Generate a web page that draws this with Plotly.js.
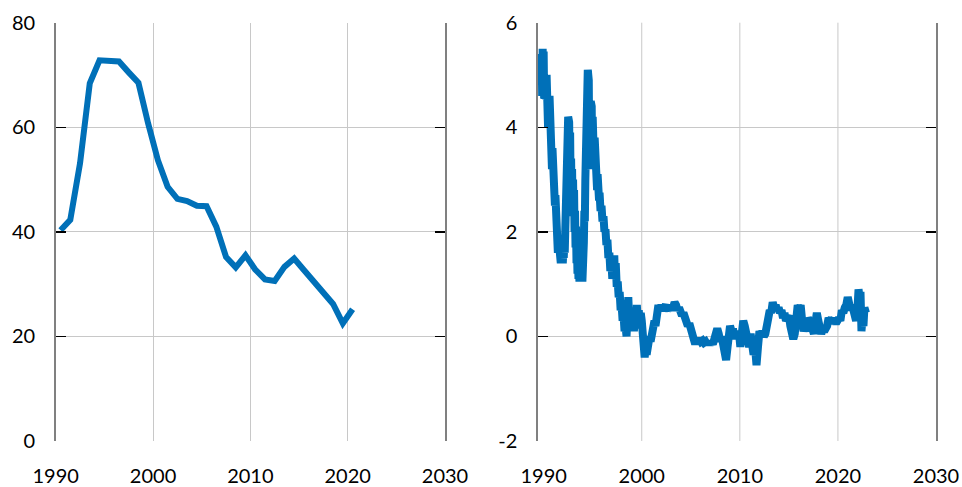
<!DOCTYPE html>
<html>
<head>
<meta charset="utf-8">
<script src="https://cdn.plot.ly/plotly-3.0.1.min.js"></script>
<style>html,body{margin:0;padding:0;background:#fff;}#chart{width:962px;height:487px;}</style>
</head>
<body>
<div id="chart"></div>
<script>
// Left panel: annual series
const leftYears = [1990.5,1991.5,1992.5,1993.5,1994.5,1995.5,1996.5,1997.5,1998.5,1999.5,2000.5,2001.5,2002.5,2003.5,2004.5,2005.5,2006.5,2007.5,2008.5,2009.5,2010.5,2011.5,2012.5,2013.5,2014.5,2015.5,2016.5,2017.5,2018.5,2019.5,2020.5];
const leftValues = [40.3,42.3,53.1,68.4,72.8,72.7,72.6,70.5,68.5,60.7,53.7,48.6,46.3,45.9,45.0,44.9,41.0,35.2,33.2,35.5,32.8,30.9,30.6,33.3,34.9,32.7,30.5,28.7,26.2,22.5,25.2];

// Right panel: high-frequency series
const rightDates = [
1989.80,1989.85,1989.90,1989.95,1990.00,1990.05,1990.10,1990.15,1990.20,1990.25,1990.30,1990.35,1990.40,1990.45,1990.50,1990.55,1990.60,1990.65,1990.70,1990.75,1990.80,1990.85,1990.90,1990.95,
1991.00,1991.05,1991.10,1991.15,1991.20,1991.25,1991.30,1991.35,1991.40,1991.45,1991.50,1991.55,1991.60,1991.65,1991.70,1991.75,1991.80,1991.85,1991.90,1991.95,
1992.00,1992.05,1992.10,1992.15,1992.20,1992.25,1992.30,1992.35,1992.40,1992.45,1992.50,1992.55,1992.60,1992.65,1992.70,1992.75,1992.80,1992.85,1992.90,1992.95,
1993.00,1993.05,1993.10,1993.15,1993.20,1993.25,1993.30,1993.35,1993.40,1993.45,1993.50,1993.55,1993.60,1993.65,1993.70,1993.75,1993.80,1993.85,1993.90,1993.95,
1994.00,1994.05,1994.10,1994.15,1994.20,1994.25,1994.30,1994.35,1994.40,1994.45,1994.50,1994.55,1994.60,1994.65,1994.70,1994.75,1994.80,1994.85,1994.90,1994.95,
1995.00,1995.05,1995.10,1995.15,1995.20,1995.25,1995.30,1995.35,1995.40,1995.45,1995.50,1995.55,1995.60,1995.65,1995.70,1995.80,1995.90,
1996.00,1996.10,1996.20,1996.30,1996.40,1996.50,1996.60,1996.70,1996.80,1996.90,
1997.00,1997.10,1997.20,1997.25,1997.35,1997.45,1997.55,1997.65,1997.75,1997.85,1997.95,
1998.05,1998.15,1998.25,1998.35,1998.45,1998.55,1998.63,1998.70,1998.80,1998.90,
1999.00,1999.10,1999.20,1999.30,1999.40,1999.50,1999.60,1999.70,1999.80,1999.90,
2000.00,2000.10,2000.20,2000.30,2000.40,2000.50,2000.60,2000.70,2000.80,2000.90,
2001.00,2001.10,2001.20,2001.30,2001.40,2001.50,2001.60,2001.70,2001.85,
2002.00,2002.15,2002.30,2002.45,2002.60,2002.75,2002.90,
2003.05,2003.20,2003.35,2003.50,2003.65,2003.80,2003.95,
2004.10,2004.25,2004.40,2004.55,2004.70,2004.85,
2005.00,2005.15,2005.30,2005.45,2005.60,2005.75,2005.90,
2006.05,2006.20,2006.35,2006.50,2006.65,2006.80,2006.95,
2007.10,2007.25,2007.40,2007.55,2007.70,2007.85,
2008.00,2008.15,2008.30,2008.45,2008.60,2008.75,2008.90,
2009.00,2009.15,2009.30,2009.45,2009.60,2009.75,2009.90,
2010.05,2010.20,2010.35,2010.50,2010.65,2010.80,2010.95,
2011.10,2011.25,2011.40,2011.55,2011.70,2011.85,
2012.00,2012.15,2012.30,2012.45,2012.60,2012.75,2012.90,
2013.05,2013.20,2013.35,2013.50,2013.65,2013.80,2013.95,
2014.10,2014.25,2014.40,2014.55,2014.70,2014.85,
2015.00,2015.15,2015.30,2015.45,2015.60,2015.75,2015.90,
2016.05,2016.20,2016.35,2016.50,2016.65,2016.80,2016.95,
2017.10,2017.25,2017.40,2017.55,2017.70,2017.85,
2018.00,2018.15,2018.30,2018.45,2018.60,2018.75,2018.90,
2019.05,2019.20,2019.35,2019.50,2019.65,2019.80,2019.95,
2020.10,2020.25,2020.40,2020.55,2020.70,2020.85,
2021.00,2021.15,2021.30,2021.45,2021.60,2021.75,2021.85,
2022.00,2022.10,2022.20,2022.30,2022.40,2022.50,2022.60,2022.70,2022.80,2022.86
];
const rightValues = [
5.40,4.60,5.50,4.80,5.45,4.55,5.40,5.00,5.45,4.60,5.00,4.30,4.90,4.00,4.70,4.10,4.60,3.95,4.40,3.60,4.00,3.20,3.60,2.90,
3.30,2.70,3.00,2.50,2.70,2.10,2.40,1.90,2.10,1.60,1.90,1.50,1.70,1.45,1.60,1.40,1.55,1.45,1.60,1.40,
1.60,1.50,1.80,1.60,2.00,2.40,2.00,3.00,3.60,3.20,4.20,3.70,4.10,3.30,3.90,2.80,3.40,2.60,3.20,2.40,
3.00,2.30,2.80,2.00,2.40,1.70,2.10,1.40,1.70,1.20,1.50,1.10,1.30,1.05,1.25,1.10,1.60,1.10,1.30,1.05,
1.20,1.10,1.80,2.40,2.20,3.00,3.60,3.20,4.20,3.80,5.10,4.20,4.90,3.40,4.30,3.20,4.50,3.40,4.40,3.20,
4.20,3.30,4.00,3.20,3.80,3.10,3.60,2.90,3.30,2.80,3.10,2.70,2.90,2.60,2.75,2.40,2.50,
2.20,2.30,2.00,2.05,1.75,1.85,1.50,1.60,1.25,1.45,
1.10,1.30,1.55,1.20,1.40,0.95,1.05,0.75,0.85,0.50,0.60,
0.30,0.40,0.10,0.20,0.00,0.30,0.75,0.40,0.10,0.55,
0.20,0.50,0.10,0.40,0.15,0.60,0.30,0.50,0.20,0.45,
0.30,0.10,-0.10,-0.40,-0.20,-0.35,-0.10,-0.15,0.00,-0.10,
0.05,0.00,0.20,0.30,0.20,0.45,0.55,0.60,0.50,
0.60,0.50,0.55,0.60,0.50,0.55,0.50,
0.60,0.55,0.65,0.60,0.50,0.55,0.45,
0.40,0.45,0.30,0.35,0.20,0.25,
0.10,0.15,-0.10,-0.15,-0.05,-0.10,-0.05,
-0.10,-0.08,-0.12,-0.10,-0.15,-0.10,-0.15,
-0.10,-0.15,-0.05,0.10,0.15,0.05,
-0.10,0.00,-0.20,-0.30,-0.45,-0.20,0.05,
0.20,0.10,0.15,-0.05,0.10,0.00,0.10,
-0.20,0.05,0.30,0.20,0.05,0.10,-0.20,
0.05,-0.10,-0.35,-0.20,-0.55,-0.20,
0.10,0.00,0.10,0.00,0.05,0.20,0.40,
0.50,0.45,0.65,0.55,0.60,0.50,0.55,
0.45,0.50,0.35,0.45,0.30,0.35,
0.40,0.20,0.00,-0.05,0.05,0.35,0.60,
0.50,0.60,0.30,0.10,0.20,0.15,0.35,
0.30,0.10,0.15,0.05,0.40,0.45,
0.30,0.10,0.05,0.15,0.10,0.15,0.20,
0.35,0.30,0.35,0.25,0.30,0.25,0.30,
0.35,0.30,0.50,0.45,0.55,0.60,
0.75,0.65,0.50,0.60,0.50,0.45,0.30,
0.55,0.90,0.75,0.85,0.10,0.35,0.20,0.55,0.35,0.45
];

const xTickVals = [1990, 2000, 2010, 2020, 2030];
const xTickText = ['1990', '2000', '2010', '2020', '2030'];
const leftYTickVals = [0, 20, 40, 60, 80];
const leftYTickText = ['0', '20', '40', '60', '80'];
const rightYTickVals = [-2, 0, 2, 4, 6];
const rightYTickText = ['-2', '0', '2', '4', '6'];
const rightGridYears = [2000, 2010, 2020];

const lineColor = '#0070b8';
const gridColor = '#c8c8c8';
const fontSpec = {family: 'Lato, "Open Sans", sans-serif', size: 20, color: '#000'};

const traces = [
  {x: leftYears, y: leftValues, xaxis: 'x', yaxis: 'y', type: 'scatter', mode: 'lines',
   line: {color: lineColor, width: 6}, hoverinfo: 'skip'},
  {x: rightDates, y: rightValues, xaxis: 'x2', yaxis: 'y2', type: 'scatter', mode: 'lines',
   line: {color: lineColor, width: 8}, hoverinfo: 'skip'}
];

const yCommon = {
  showline: true, linecolor: '#808080', linewidth: 1.5, mirror: 'ticks',
  ticks: 'inside', ticklen: 10, tickwidth: 1.5, tickcolor: '#000',
  showgrid: true, gridcolor: gridColor, gridwidth: 1, zeroline: false,
  tickfont: fontSpec, ticklabelstandoff: 15, fixedrange: true
};
const xCommon = {
  showline: false, ticks: '', zeroline: false, tickfont: fontSpec,
  tickmode: 'array', tickvals: xTickVals, ticktext: xTickText,
  ticklabelstandoff: 21, fixedrange: true
};

const shapes = rightGridYears.map(yr => ({
  type: 'line', xref: 'x2', yref: 'y2 domain', x0: yr, x1: yr, y0: 0, y1: 1,
  line: {color: gridColor, width: 1}, layer: 'below'
}));

const layout = {
  width: 962, height: 487,
  margin: {l: 0, r: 0, t: 0, b: 0},
  paper_bgcolor: '#fff', plot_bgcolor: '#fff',
  showlegend: false,
  xaxis: Object.assign({}, xCommon, {domain: [0.0579, 0.4626], range: [1990, 2030], anchor: 'y',
    showgrid: true, gridcolor: gridColor, gridwidth: 1}),
  yaxis: Object.assign({}, yCommon, {domain: [0.0945, 0.9534], range: [0, 80], anchor: 'x',
    tickmode: 'array', tickvals: leftYTickVals, ticktext: leftYTickText}),
  xaxis2: Object.assign({}, xCommon, {domain: [0.559, 0.973], range: [1989.4, 2030], anchor: 'y2',
    showgrid: false}),
  yaxis2: Object.assign({}, yCommon, {domain: [0.0945, 0.9534], range: [-2, 6], anchor: 'x2',
    tickmode: 'array', tickvals: rightYTickVals, ticktext: rightYTickText}),
  shapes: shapes
};

Plotly.newPlot('chart', traces, layout, {displayModeBar: false, staticPlot: true});
</script>
</body>
</html>
